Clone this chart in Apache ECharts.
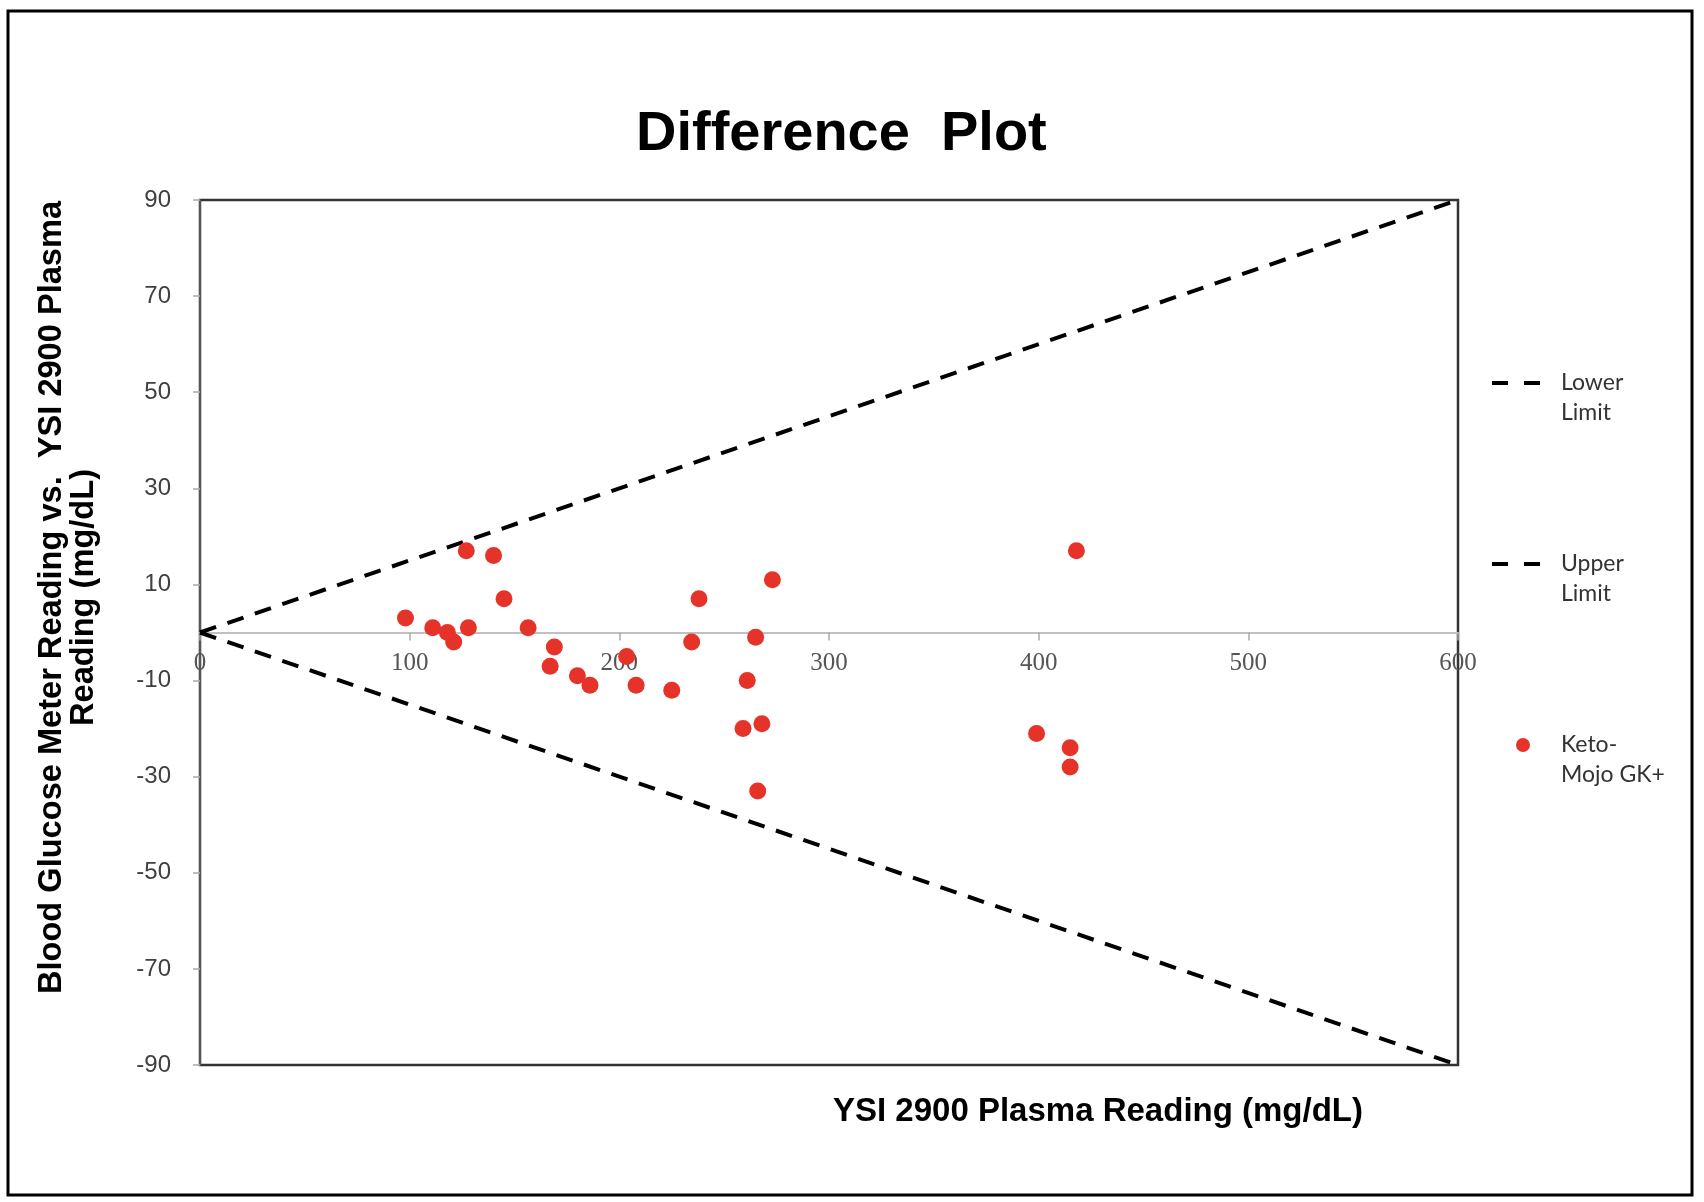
<!DOCTYPE html>
<html>
<head>
<meta charset="utf-8">
<script src="https://cdn.jsdelivr.net/npm/echarts@6/dist/echarts.min.js"></script>
<style>
html,body{margin:0;padding:0;background:#fff;}
#chart{width:1704px;height:1202px;}
</style>
</head>
<body>
<div id="chart"></div>
<script>
// Keto-Mojo GK+ readings: YSI plasma reading (x) vs difference (y)
var ysiReading = [98, 111, 118, 121, 127, 128, 140, 145, 156.5, 167, 169, 180, 186, 203.5, 208, 225, 234.5, 238, 259, 261, 265, 266, 268, 273, 399, 415, 415, 418];
var difference = [3, 1, 0, -2, 17, 1, 16, 7, 1, -7, -3, -9, -11, -5, -11, -12, -2, 7, -20, -10, -1, -33, -19, 11, -21, -24, -28, 17];

// Limit lines (±15%)
var limitX = [0, 600];
var lowerLimitY = [0, -90];
var upperLimitY = [0, 90];

var seriesNames = ['Lower\nLimit', 'Upper\nLimit', 'Keto-\nMojo GK+'];
var chartTitle = 'Difference  Plot';
var xTitle = 'YSI 2900 Plasma Reading (mg/dL)';
var yTitle = 'Blood Glucose Meter Reading vs.  YSI 2900 Plasma\nReading (mg/dL)';

function pairs(xs, ys) {
  return xs.map(function (x, i) { return [x, ys[i]]; });
}

var dashIcon = 'path://M0,0 L16,0 L16,4 L0,4 Z M32,0 L48,0 L48,4 L32,4 Z';
var dotIcon = 'path://M0,0 L0,0 M48,14 L48,14 M31,0 A7,7 0 1 1 31,14 A7,7 0 1 1 31,0 Z';

var chart = echarts.init(document.getElementById('chart'), null, {renderer: 'canvas'});
var option = {
  backgroundColor: '#fff',
  animation: false,
  title: [
    {
      text: chartTitle, left: 636, top: 107, padding: 0,
      textStyle: {fontFamily: 'Liberation Sans', fontSize: 56, fontWeight: 'bold', color: '#000', lineHeight: 56}
    },
    {
      text: xTitle, left: 833, top: 1096, padding: 0,
      textStyle: {fontFamily: 'Liberation Sans', fontSize: 33, fontWeight: 'bold', color: '#000', lineHeight: 32}
    }
  ],
  graphic: [
    {type: 'rect', shape: {x: 8, y: 11, width: 1684, height: 1184}, style: {fill: 'none', stroke: '#000', lineWidth: 3}, z: 100}
  ],
  legend: {
    orient: 'vertical', left: 1492, top: 338, padding: 0,
    itemWidth: 48, itemHeight: 14, itemGap: 91,
    data: [
      {name: seriesNames[0], icon: dashIcon},
      {name: seriesNames[1], icon: dashIcon},
      {name: seriesNames[2], icon: dotIcon}
    ],
    itemStyle: {borderWidth: 0},
    formatter: function (name) { return '\n' + name; },
    textStyle: {fontFamily: 'Lato', fontSize: 23, color: '#333', lineHeight: 30, padding: [0, 0, 0, 16]}
  },
  grid: {left: 200, top: 200, right: 246, bottom: 137, show: true, borderColor: '#333', borderWidth: 2.5, backgroundColor: 'transparent', containLabel: false, outerBoundsMode: 'none'},
  xAxis: {
    type: 'value', min: 0, max: 600, interval: 100, position: 'bottom', offset: -432.5,
    axisLine: {onZero: false, lineStyle: {color: '#c0c0c0', width: 2}},
    axisTick: {show: true, length: 8, lineStyle: {color: '#aaa', width: 1.5}},
    axisLabel: {margin: 18, fontFamily: 'Liberation Serif', fontSize: 25, color: '#555'},
    splitLine: {show: false}
  },
  yAxis: {
    type: 'value', min: -90, max: 90, interval: 20,
    name: yTitle, nameLocation: 'middle', nameGap: 100,
    nameTextStyle: {fontFamily: 'Liberation Sans', fontSize: 32.6, fontWeight: 'bold', color: '#000', lineHeight: 32, padding: [0, 0, 0, 70]},
    axisLine: {show: true, onZero: false, lineStyle: {color: '#555', width: 2}},
    axisTick: {show: true, length: 7, lineStyle: {color: '#aaa', width: 1.5}},
    axisLabel: {margin: 29, fontFamily: 'Liberation Sans', fontSize: 24, color: '#404040'},
    splitLine: {show: false}
  },
  series: [
    {
      name: seriesNames[0], type: 'line', data: pairs(limitX, lowerLimitY),
      symbol: 'none', lineStyle: {color: '#000', width: 4, type: [17, 12]}, itemStyle: {color: '#000'}, z: 3
    },
    {
      name: seriesNames[1], type: 'line', data: pairs(limitX, upperLimitY),
      symbol: 'none', lineStyle: {color: '#000', width: 4, type: [17, 12]}, itemStyle: {color: '#000'}, z: 3
    },
    {
      name: seriesNames[2], type: 'scatter', data: pairs(ysiReading, difference),
      symbol: 'circle', symbolSize: 17, itemStyle: {color: '#e63329', opacity: 1}, z: 4
    }
  ]
};
chart.setOption(option);
</script>
</body>
</html>
